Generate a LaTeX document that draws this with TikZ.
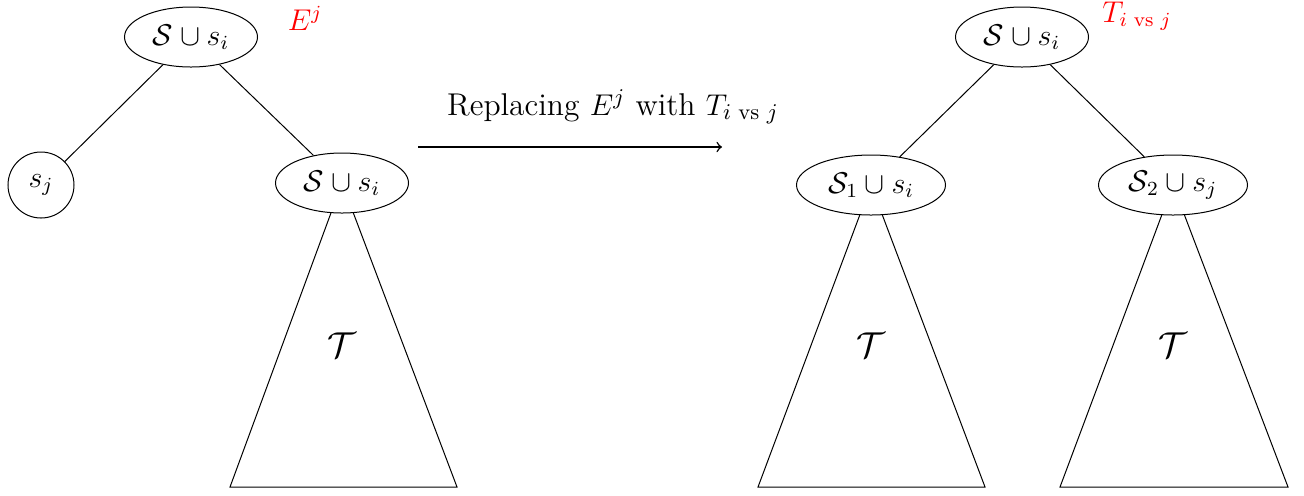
\documentclass[tikz,border=0pt]{standalone}
\usepackage{amsmath}
\usetikzlibrary{shapes.geometric,backgrounds}
\tikzset{
  ell/.style={draw, ellipse, fill=white, inner sep=0pt, minimum width=53.2pt, minimum height=24pt, font=\large},
  wide/.style={ell, minimum width=59.6pt},
  circ/.style={draw, circle, fill=white, inner sep=0pt, minimum size=26.4pt, font=\large},
  lab/.style={font=\Large},
  redlab/.style={text=red, font=\large},
  edge/.style={draw, thin},
  tri/.style={draw, thin}
}
\begin{document}
\begin{tikzpicture}[x=0.4pt, y=-0.4pt]
\useasboundingbox (0,0) rectangle (1304,495);
% left tree
\node[ell]  (lr) at (191,37)  {$\mathcal{S}\cup s_i$};
\node[circ] (lsj) at (41,185) {$s_j$};
\node[ell]  (lc) at (342,183) {$\mathcal{S}\cup s_i$};
\draw[edge] (lr) -- (lsj);
\draw[edge] (lr) -- (lc);
\coordinate (lb1) at (230,487);
\coordinate (lb2) at (457,487);
\begin{scope}[on background layer]
\draw[tri] (lc.center) -- (lb1) -- (lb2) -- cycle;
\end{scope}
\node[lab] (lt) at (342,345) {$\mathcal{T}$};
\node[redlab] (ej) at (305,18) {$E^j$};
% arrow
\coordinate (a1) at (418,147);
\coordinate (a2) at (722,147);
\draw[->, semithick] (a1) -- (a2);
\node[font=\fontsize{12.6}{15}\selectfont] (al) at (613,107) {Replacing $E^j$ with $T_{i\text{ vs }j}$};
% right tree
\node[ell]  (rr) at (1022,37) {$\mathcal{S}\cup s_i$};
\node[wide] (rc1) at (871,185) {$\mathcal{S}_1\cup s_i$};
\node[wide] (rc2) at (1173,185) {$\mathcal{S}_2\cup s_j$};
\draw[edge] (rr) -- (rc1);
\draw[edge] (rr) -- (rc2);
\coordinate (r1b1) at (758,487);
\coordinate (r1b2) at (985,487);
\coordinate (r2b1) at (1060,487);
\coordinate (r2b2) at (1288,487);
\begin{scope}[on background layer]
\draw[tri] (rc1.center) -- (r1b1) -- (r1b2) -- cycle;
\draw[tri] (rc2.center) -- (r2b1) -- (r2b2) -- cycle;
\end{scope}
\node[lab] (rt1) at (871,345) {$\mathcal{T}$};
\node[lab] (rt2) at (1173,345) {$\mathcal{T}$};
\node[redlab] (tij) at (1137,16) {$T_{i\text{ vs }j}$};
\end{tikzpicture}
\end{document}
